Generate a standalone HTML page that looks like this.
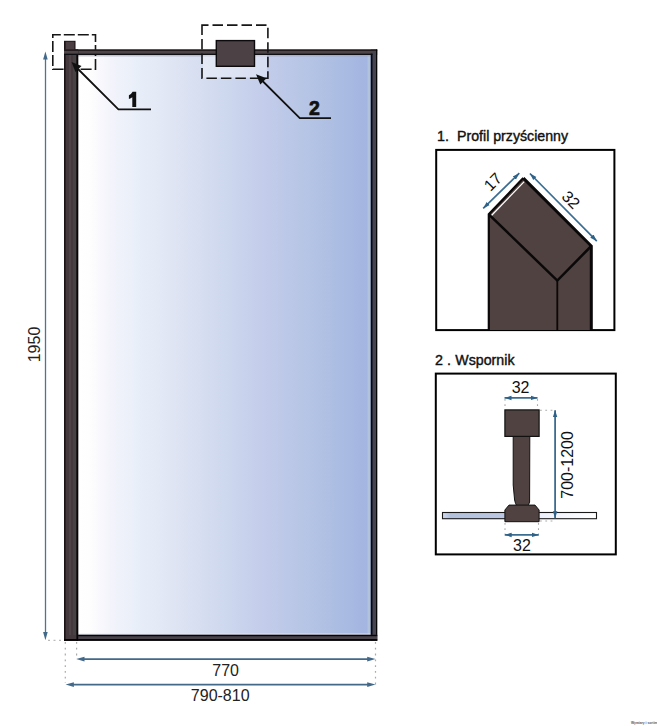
<!DOCTYPE html>
<html><head><meta charset="utf-8">
<style>
html,body{margin:0;padding:0;background:#fff;}
body{width:657px;height:726px;overflow:hidden;position:relative;}
svg{position:absolute;left:0;top:0;}
text{font-family:"Liberation Sans", sans-serif;}
</style></head>
<body>
<svg width="657" height="726" viewBox="0 0 657 726">
<defs>
<linearGradient id="glass" gradientUnits="userSpaceOnUse" x1="77.5" y1="0" x2="370.8" y2="0">
<stop offset="0" stop-color="#ffffff"/>
<stop offset="0.04" stop-color="#fefefe"/>
<stop offset="0.12" stop-color="#f2f3fb"/>
<stop offset="0.2" stop-color="#e9eff9"/>
<stop offset="0.35" stop-color="#dde3f2"/>
<stop offset="0.5" stop-color="#ced8ee"/>
<stop offset="0.65" stop-color="#c2cbea"/>
<stop offset="0.78" stop-color="#b6c5e5"/>
<stop offset="0.9" stop-color="#aabce2"/>
<stop offset="1" stop-color="#a2b4e0"/>
</linearGradient>
<marker id="ah" viewBox="0 0 10 10" refX="10" refY="5" markerWidth="7" markerHeight="7" orient="auto-start-reverse" markerUnits="userSpaceOnUse">
<path d="M0,1.5 L10,5 L0,8.5 z" fill="#3b6a8c"/>
</marker>
<marker id="ahb" viewBox="0 0 10 10" refX="10" refY="5" markerWidth="7" markerHeight="7" orient="auto-start-reverse" markerUnits="userSpaceOnUse">
<path d="M0,1.8 L10,5 L0,8.2 z" fill="#2e6188"/>
</marker>
<linearGradient id="gbar" x1="0" x2="1" y1="0" y2="0">
<stop offset="0" stop-color="#d2dcf0"/>
<stop offset="0.05" stop-color="#b3c1dd"/>
<stop offset="0.4" stop-color="#bcc8e3"/>
<stop offset="0.62" stop-color="#eceffb"/>
<stop offset="1" stop-color="#ffffff"/>
</linearGradient>
</defs>

<!-- glass -->
<rect x="77.5" y="54.9" width="293.3" height="579.9" fill="url(#glass)"/>
<rect x="367.5" y="54.9" width="3.3" height="579.9" fill="#b0c2dc"/>
<rect x="77.5" y="633.6" width="293.3" height="1.3" fill="#e6e9f6"/>
<rect x="77.5" y="54.9" width="293.3" height="1.6" fill="#9c9cb0" opacity="0.55"/>

<!-- dashed box 1 -->
<rect x="52.8" y="34.8" width="42.7" height="34.4" fill="none" stroke="#161616" stroke-width="1.6" stroke-dasharray="11 3" stroke-dashoffset="3"/>
<!-- frame -->
<rect x="75" y="49.5" width="302.2" height="5.4" fill="#4d4548"/>
<rect x="370.8" y="49.5" width="6.4" height="591.3" fill="#45444f"/>
<rect x="75" y="49.5" width="302.2" height="1.2" fill="#120a0c"/>
<rect x="75" y="53.7" width="297.5" height="1.2" fill="#08080c"/>
<rect x="370.8" y="53.7" width="1.7" height="587" fill="#050818"/>
<rect x="376" y="49.5" width="1.2" height="591.3" fill="#050505"/>
<rect x="64" y="634.8" width="313.2" height="6" fill="#48434a"/>
<rect x="64" y="634.8" width="313.2" height="1.4" fill="#050408"/>
<rect x="64" y="639" width="313.2" height="1.8" fill="#030303"/>
<rect x="64.5" y="41.3" width="10.5" height="9.5" fill="#4b3f43" stroke="#140c0e" stroke-width="1"/>
<rect x="64" y="50" width="14.2" height="590.8" fill="#443a3d"/>
<rect x="64" y="41" width="1.6" height="599.8" fill="#1a1214"/>
<rect x="69" y="50" width="2" height="585" fill="#4f4347"/>
<rect x="73" y="50" width="3.4" height="585" fill="#474244"/>
<rect x="76.4" y="50" width="1.8" height="590.8" fill="#050505"/>
<rect x="64" y="49.5" width="14.2" height="5.4" fill="#4d4548"/>
<rect x="64" y="49.5" width="14.2" height="1.2" fill="#120a0c"/>
<rect x="64" y="53.7" width="14.2" height="1.2" fill="#08080c"/>
<rect x="64" y="639" width="14.2" height="1.8" fill="#030303"/>

<!-- dashed box 2 -->
<rect x="203" y="55" width="64" height="22.5" fill="#fff" opacity="0.35"/>
<rect x="202" y="25.1" width="65.9" height="53.1" fill="none" stroke="#161616" stroke-width="1.6" stroke-dasharray="10.5 4" stroke-dashoffset="4"/>
<!-- bracket block on top bar -->
<rect x="216.3" y="40.6" width="38.2" height="25.7" fill="#4c4245" stroke="#0c0a0c" stroke-width="1.4"/>

<!-- leader 1 -->
<polyline points="78,69 118.4,109.4 151,109.4" fill="none" stroke="#111" stroke-width="1.8"/>
<path d="M71.5,62 L81.5,66 L75.5,72 z" fill="#111"/>
<path d="M132.6,91.8 L136.2,91.8 L136.2,106.9 L132.3,106.9 L132.3,97.2 Q130.9,98.3 128.9,98.9 L128.9,95.3 Q131.3,94.3 132.6,91.8 z" fill="#111"/>

<!-- leader 2 -->
<polyline points="260,78.5 299.8,118.2 331,118.2" fill="none" stroke="#111" stroke-width="1.8"/>
<path d="M256,74.3 L266.5,78.3 L260.3,84.5 z" fill="#111"/>
<text x="314.5" y="115.3" font-size="19.5" font-weight="bold" text-anchor="middle" fill="#111" stroke="#111" stroke-width="0.7">2</text>

<!-- height dimension -->
<line x1="45.5" y1="57" x2="45.5" y2="634" stroke="#4d7592" stroke-width="1.3"/>
<path d="M45.4,51.5 L43.1,59.5 L47.7,59.5 z" fill="#43698a"/>
<path d="M45.4,640.3 L43.1,632 L47.7,632 z" fill="#43698a"/>
<text transform="translate(40,344.5) rotate(-90)" font-size="16" text-anchor="middle" fill="#222">1950</text>
<line x1="48" y1="640.3" x2="64" y2="640.3" stroke="#bbb" stroke-width="1.2" stroke-dasharray="2 3.5"/>

<!-- width dimensions -->
<line x1="76.6" y1="642" x2="76.6" y2="657" stroke="#aaa" stroke-width="1.2" stroke-dasharray="1.8 4"/>
<line x1="65.3" y1="642" x2="65.3" y2="683" stroke="#aaa" stroke-width="1.2" stroke-dasharray="1.8 4"/>
<line x1="375.5" y1="642" x2="375.5" y2="686" stroke="#aaa" stroke-width="1.2" stroke-dasharray="1.8 4"/>
<line x1="82" y1="659.1" x2="370" y2="659.1" stroke="#43698a" stroke-width="1.9"/>
<path d="M76.2,659.1 L84.5,656.8 L84.5,661.4 z" fill="#43698a"/>
<path d="M375.5,659.1 L367.2,656.8 L367.2,661.4 z" fill="#43698a"/>
<text x="225.6" y="675.8" font-size="16" text-anchor="middle" fill="#222">770</text>
<line x1="71" y1="684.6" x2="370" y2="684.6" stroke="#43698a" stroke-width="1.9"/>
<path d="M65.6,684.6 L73.9,682.3 L73.9,686.9 z" fill="#43698a"/>
<path d="M375.5,684.6 L367.2,682.3 L367.2,686.9 z" fill="#43698a"/>
<text x="220.2" y="700.8" font-size="16" text-anchor="middle" fill="#222">790-810</text>

<!-- panel 1 -->
<g fill="#111" stroke="#111" stroke-width="0.4" font-size="14.3">
<text x="437" y="140.7">1.</text>
<text x="457" y="140.7" textLength="111" lengthAdjust="spacingAndGlyphs">Profil przyścienny</text>
</g>
<rect x="436.2" y="149.9" width="178.2" height="180.2" fill="none" stroke="#000" stroke-width="2"/>
<!-- profile shape -->
<path d="M488.8,214.3 L557.3,280.6 L557.3,330 L488.8,330 z" fill="#4f4240"/>
<path d="M557.3,280.6 L591.3,246 L591.3,330 L557.3,330 z" fill="#4f4240"/>
<path d="M488.8,214.3 L523.3,178.1 L591.3,246 L557.3,280.6 z" fill="#4f4240"/>
<path d="M488.8,330 L488.8,214.3 L523.3,178.1" fill="none" stroke="#0a0808" stroke-width="2.2"/>
<path d="M523.3,178.1 L591.3,246 L591.3,330" fill="none" stroke="#0a0808" stroke-width="3"/>
<path d="M488.8,214.3 L557.3,280.6 L591.3,246" fill="none" stroke="#0a0808" stroke-width="2.5"/>
<line x1="557.3" y1="280.6" x2="557.3" y2="330" stroke="#0a0808" stroke-width="1.8"/>
<line x1="491.7" y1="215.3" x2="524.2" y2="181.6" stroke="#fff" stroke-width="1.3"/>
<!-- dims -->
<line x1="483.2" y1="208.4" x2="519.3" y2="173.2" stroke="#3b6d92" stroke-width="1.7" marker-start="url(#ahb)" marker-end="url(#ahb)"/>
<text transform="translate(492.8,181.6) rotate(-45)" font-size="16" text-anchor="middle" dy="5.7" fill="#111">17</text>
<line x1="529.9" y1="173.5" x2="596.8" y2="241.1" stroke="#3b6d92" stroke-width="1.7" marker-start="url(#ahb)" marker-end="url(#ahb)"/>
<text transform="translate(571,199.7) rotate(45)" font-size="16" text-anchor="middle" dy="5.7" fill="#111">32</text>

<!-- panel 2 -->
<g fill="#111" stroke="#111" stroke-width="0.4" font-size="14.3">
<text x="435" y="365.1">2 .</text>
<text x="455.3" y="365.1" textLength="59.2" lengthAdjust="spacingAndGlyphs">Wspornik</text>
</g>
<rect x="435.8" y="373.6" width="180" height="180.8" fill="none" stroke="#000" stroke-width="2"/>
<!-- glass bar -->
<rect x="442.5" y="512.5" width="154" height="6.2" fill="url(#gbar)" stroke="#1a1a1a" stroke-width="1.1"/>
<!-- rod -->
<path d="M513.2,436.5 L529.8,436.5 L529.6,502 Q528,508.5 521.5,508.5 Q516,508 514.6,500 L513.2,485 z" fill="#4f4240" stroke="#111" stroke-width="1"/>
<path d="M504.9,510 L509,505.1 L535,505.1 L539.1,510 L539.1,521.7 L504.9,521.7 z" fill="#4f4240" stroke="#111" stroke-width="1"/>
<rect x="504.9" y="409.9" width="34.2" height="26.5" fill="#4f4240" stroke="#111" stroke-width="1.2"/>
<!-- dims -->
<line x1="505" y1="399" x2="505" y2="409" stroke="#aaa" stroke-width="1.1" stroke-dasharray="1.8 3.5"/>
<line x1="537.5" y1="399" x2="537.5" y2="409" stroke="#aaa" stroke-width="1.1" stroke-dasharray="1.8 3.5"/>
<line x1="504.5" y1="397.9" x2="537.5" y2="397.9" stroke="#3b6d92" stroke-width="1.7" marker-start="url(#ahb)" marker-end="url(#ahb)"/>
<text x="520.6" y="392.5" font-size="16" text-anchor="middle" fill="#111">32</text>
<line x1="505" y1="523" x2="505" y2="534" stroke="#aaa" stroke-width="1.1" stroke-dasharray="1.8 3.5"/>
<line x1="538.5" y1="523" x2="538.5" y2="534" stroke="#aaa" stroke-width="1.1" stroke-dasharray="1.8 3.5"/>
<line x1="504.7" y1="534.9" x2="538.8" y2="534.9" stroke="#3b6d92" stroke-width="1.7" marker-start="url(#ahb)" marker-end="url(#ahb)"/>
<text x="522" y="551.3" font-size="16" text-anchor="middle" fill="#111">32</text>
<line x1="540" y1="410.3" x2="554" y2="410.3" stroke="#aaa" stroke-width="1.1" stroke-dasharray="1.8 3.5"/>
<line x1="540" y1="521" x2="554" y2="521" stroke="#aaa" stroke-width="1.1" stroke-dasharray="1.8 3.5"/>
<line x1="555.1" y1="410.3" x2="555.1" y2="518.2" stroke="#3b6d92" stroke-width="1.8" marker-start="url(#ahb)" marker-end="url(#ahb)"/>
<text transform="translate(572.9,464.9) rotate(-90)" font-size="16" text-anchor="middle" fill="#111">700-1200</text>

<!-- tiny credit -->
<text x="631" y="724.3" font-size="3.3" fill="#555" font-weight="bold">Wymiary i sortiment</text>
</svg>
</body></html>
